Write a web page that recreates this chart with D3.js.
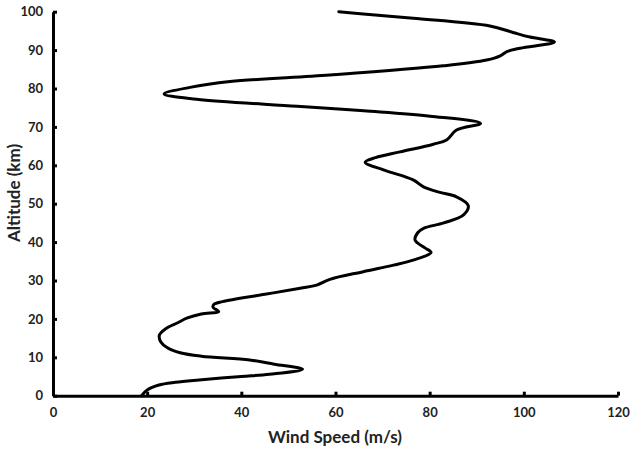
<!DOCTYPE html>
<html>
<head>
<meta charset="utf-8">
<script src="https://cdn.jsdelivr.net/npm/d3@7"></script>
<style>
  html, body { margin: 0; padding: 0; background: #fff; }
  svg { display: block; }
  text { font-family: Lato, "Open Sans", sans-serif; font-weight: bold; fill: #222; }
</style>
</head>
<body>
<svg id="chart" width="630" height="452"></svg>
<script>
// Wind speed profile against altitude
const altitude = [0.0, 1.5, 2.8, 3.5, 4.1, 5.0, 5.6, 6.9, 8.2, 9.3, 10.3, 11.2, 12.5, 14.0, 15.8,
  17.5, 19.0, 20.2, 21.3, 21.9, 23.0, 23.8, 24.5, 26.4, 28.0, 28.8, 30.3, 32.3, 34.0,
  35.3, 37.3, 38.5, 40.5, 42.5, 43.6, 45.0, 47.1, 49.5, 51.8, 53.0, 54.4, 56.2, 58.8, 60.8,
  62.0, 63.5, 65.5, 66.6, 69.2, 70.9, 72.8, 74.2, 75.4, 77.2, 78.6, 80.3, 81.8, 83.5, 85.9,
  87.4, 88.5, 89.6, 90.5, 92.1, 93.4, 94.6, 96.3, 98.3, 99.4, 100.0];
const windSpeed = [18.8, 20.0, 22.5, 26.0, 31.0, 40.0, 46.0, 53.0, 47.0, 41.8, 31.5, 27.0, 24.3, 22.9, 22.6,
  24.0, 26.5, 28.4, 31.5, 35.2, 34.0, 34.2, 36.0, 45.0, 52.5, 56.0, 58.8, 65.9, 72.3,
  76.5, 80.3, 79.0, 76.9, 77.5, 78.7, 83.0, 87.2, 88.2, 85.7, 82.0, 78.7, 76.5, 70.2, 66.3,
  68.5, 73.7, 80.8, 83.6, 85.7, 90.8, 80.1, 66.0, 51.8, 30.5, 23.6, 29.1, 37.6, 58.8, 82.9,
  92.1, 95.0, 96.4, 99.2, 106.5, 101.3, 97.7, 92.8, 76.5, 65.9, 60.7];

const xTicks = [0, 20, 40, 60, 80, 100, 120];
const yTicks = [0, 10, 20, 30, 40, 50, 60, 70, 80, 90, 100];

const svg = d3.select("#chart");
const plotLeft = 53, plotRight = 618, plotTop = 11.7, plotBottom = 395.7;

const x = d3.scaleLinear().domain([0, 120]).range([plotLeft, plotRight]);
const y = d3.scaleLinear().domain([0, 100]).range([plotBottom, plotTop]);

const points = altitude.map((a, i) => ({ alt: a, speed: windSpeed[i] }));

// profile line
svg.append("path")
  .datum(points)
  .attr("fill", "none")
  .attr("stroke", "#000")
  .attr("stroke-width", 3)
  .attr("stroke-linejoin", "round")
  .attr("stroke-linecap", "round")
  .attr("d", d3.line()
    .x(d => x(d.speed))
    .y(d => y(d.alt))
    .curve(d3.curveCatmullRom.alpha(0.5)));

// x axis
const xAxis = svg.append("g")
  .attr("transform", `translate(0,${plotBottom})`)
  .call(d3.axisBottom(x).tickValues(xTicks).tickSizeInner(-4).tickSizeOuter(0).tickPadding(12));
xAxis.select(".domain").attr("stroke-width", 3).attr("stroke", "#000");
xAxis.selectAll(".tick line").attr("stroke-width", 3).attr("stroke", "#000");
xAxis.selectAll(".tick text").style("font-size", "13px").attr("fill", "#222")
  .attr("font-family", "Lato, sans-serif");

// y axis
const yAxis = svg.append("g")
  .attr("transform", `translate(${plotLeft},0)`)
  .call(d3.axisLeft(y).tickValues(yTicks).tickSizeInner(-4).tickSizeOuter(0).tickPadding(10));
yAxis.select(".domain").attr("stroke-width", 3).attr("stroke", "#000");
yAxis.selectAll(".tick line").attr("stroke-width", 3).attr("stroke", "#000");
yAxis.selectAll(".tick text").style("font-size", "13px").attr("fill", "#222")
  .attr("font-family", "Lato, sans-serif");

// axis titles
svg.append("text")
  .attr("x", 335).attr("y", 443)
  .attr("text-anchor", "middle")
  .style("font-size", "17px")
  .text("Wind Speed (m/s)");

svg.append("text")
  .attr("transform", "translate(20,193) rotate(-90)")
  .attr("text-anchor", "middle")
  .style("font-size", "17px")
  .text("Altitude (km)");
</script>
</body>
</html>
